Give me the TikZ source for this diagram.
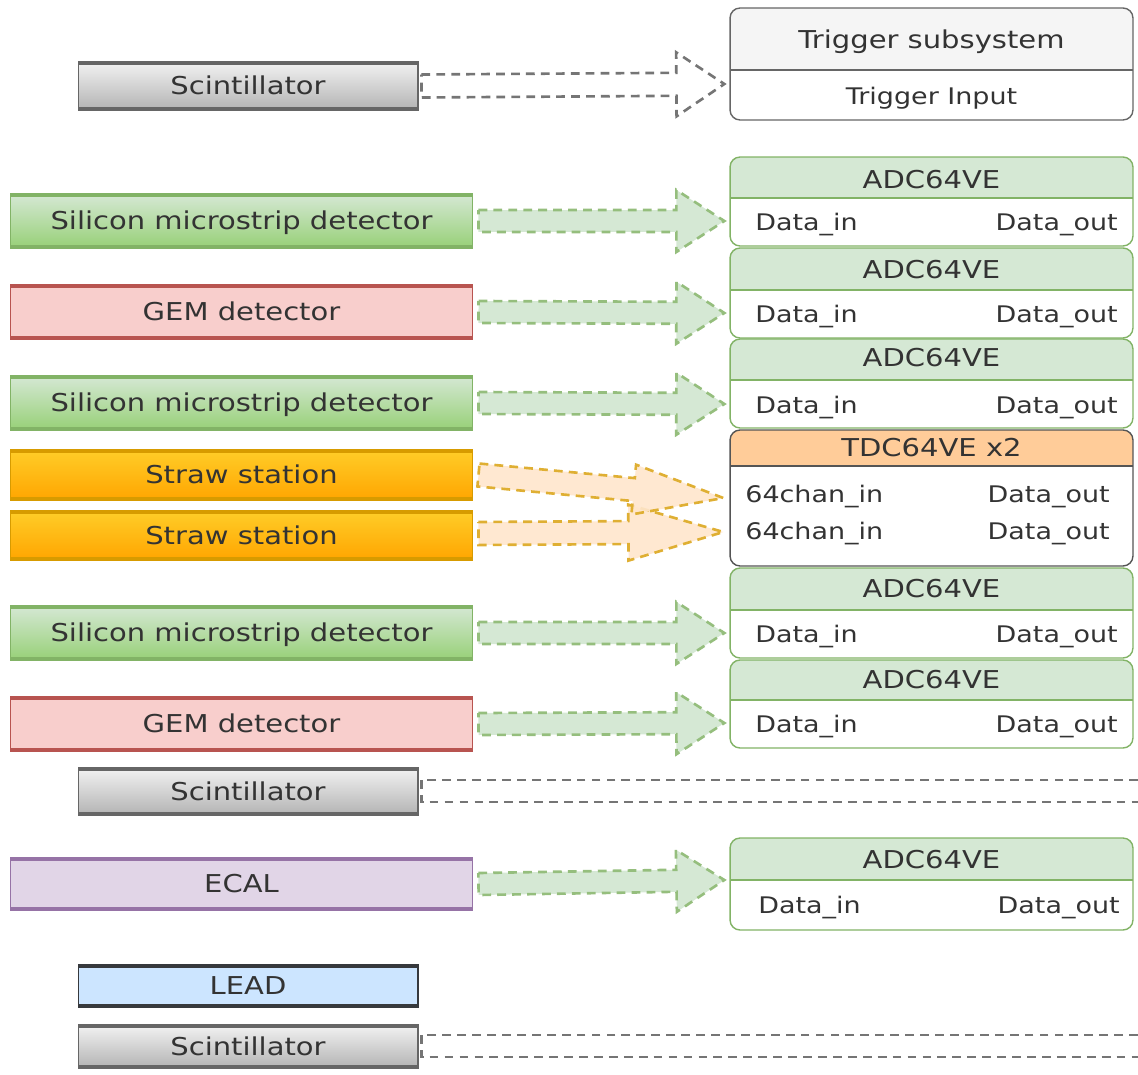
\documentclass[tikz,border=0pt]{standalone}
\usepackage{fontspec}
\setmainfont{DejaVu Sans}[FakeStretch=1.18]
\usetikzlibrary{calc}
\definecolor{txtc}{HTML}{333333}
\definecolor{gfill}{HTML}{D5E8D4}
\definecolor{gdark}{HTML}{97D077}
\definecolor{gstroke}{HTML}{82B366}
\definecolor{pfill}{HTML}{F8CECC}
\definecolor{pstroke}{HTML}{B85450}
\definecolor{otop}{HTML}{FFCD28}
\definecolor{obot}{HTML}{FFA500}
\definecolor{ostroke}{HTML}{D79B00}
\definecolor{ohead}{HTML}{FFCC99}
\definecolor{oarrow}{HTML}{FFE6CC}
\definecolor{gytop}{HTML}{F2F2F2}
\definecolor{gybot}{HTML}{B3B3B3}
\definecolor{gystroke}{HTML}{666666}
\definecolor{gyhead}{HTML}{F5F5F5}
\definecolor{vfill}{HTML}{E1D5E7}
\definecolor{vstroke}{HTML}{9673A6}
\definecolor{bfill}{HTML}{CCE5FF}
\definecolor{bstroke}{HTML}{36393D}
\definecolor{tdcstroke}{HTML}{555555}

\newcommand{\blockarr}[6]{%
  \path (#2) coordinate (as) (#3) coordinate (ae);
  \path ($(ae)!#6!(as)$) coordinate (ah);
  \draw[#1] ($(as)!#4!90:(ae)$) -- ($(ah)!#4!90:(ae)$) -- ($(ah)!#5!90:(ae)$) -- (ae)
    -- ($(ah)!#5!-90:(ae)$) -- ($(ah)!#4!-90:(ae)$) -- ($(as)!#4!-90:(ae)$) -- cycle;
}

\tikzset{
  lbl/.style={text=txtc, font=\fontsize{14}{16}\selectfont, inner sep=0pt, text height=10.2pt, text depth=0pt},
  portlbl/.style={text=txtc, font=\fontsize{13}{15}\selectfont, inner sep=0pt, text height=9.5pt, text depth=0pt},
  det/.style n args={5}{rectangle, draw=#3, line width=0.6pt, top color=#1, bottom color=#2,
    minimum width=#4, minimum height=#5, text=txtc, font=\fontsize{14}{16}\selectfont, inner sep=0pt,
    text height=10.2pt, text depth=0pt,
    path picture={\draw[#3, line width=3.5pt]
      (path picture bounding box.north west) -- (path picture bounding box.north east)
      (path picture bounding box.south west) -- (path picture bounding box.south east);}},
  unitbox/.style n args={4}{draw=#1, fill=white, rounded corners=0.2cm, line width=0.8pt,
    minimum width=8.06cm, minimum height=#4, inner sep=0pt,
    path picture={\fill[#2, sharp corners] (path picture bounding box.north west) rectangle
      ([yshift=-#3]path picture bounding box.north east);
      \draw[#1, line width=0.8pt, sharp corners] ([yshift=-#3]path picture bounding box.north west) --
      ([yshift=-#3]path picture bounding box.north east);}},
  garr/.style={draw=gstroke!85!white, fill=gfill, line width=1.5pt, dash pattern=on 5pt off 3.5pt, line join=miter},
  oarr/.style={draw=ostroke!80!white, fill=oarrow, fill opacity=0.9, draw opacity=1, line width=1.5pt, dash pattern=on 5pt off 3.5pt, line join=miter},
  gyarr/.style={draw=gystroke!90!white, fill=white, line width=1.5pt, dash pattern=on 5pt off 3.5pt, line join=miter},
  gyline/.style={draw=gystroke!90!white, line width=1.5pt, dash pattern=on 5pt off 3.5pt},
}

\begin{document}
\begin{tikzpicture}[x=0.02cm, y=-0.02cm]
\useasboundingbox (0,0) rectangle (1138,1074);

% ---------- detectors ----------
\node[det={gytop}{gybot}{gystroke}{6.8cm}{0.96cm}] (scint1) at (248,86) {Scintillator};
\node[det={gfill}{gdark}{gstroke}{9.26cm}{1.08cm}] (sil1) at (241.5,221) {Silicon microstrip detector};
\node[det={pfill}{pfill}{pstroke}{9.26cm}{1.08cm}] (gem1) at (241.5,312) {GEM detector};
\node[det={gfill}{gdark}{gstroke}{9.26cm}{1.08cm}] (sil2) at (241.5,403) {Silicon microstrip detector};
\node[det={otop}{obot}{ostroke}{9.26cm}{1.0cm}] (straw1) at (241.5,475) {Straw station};
\node[det={otop}{obot}{ostroke}{9.26cm}{0.98cm}] (straw2) at (241.5,535.5) {Straw station};
\node[det={gfill}{gdark}{gstroke}{9.26cm}{1.08cm}] (sil3) at (241.5,633) {Silicon microstrip detector};
\node[det={pfill}{pfill}{pstroke}{9.26cm}{1.08cm}] (gem2) at (241.5,724) {GEM detector};
\node[det={gytop}{gybot}{gystroke}{6.8cm}{0.94cm}] (scint2) at (248,791.5) {Scintillator};
\node[det={vfill}{vfill}{vstroke}{9.26cm}{1.04cm}] (ecal) at (241.5,884) {ECAL};
\node[det={bfill}{bfill}{bstroke}{6.8cm}{0.84cm}] (lead) at (248,986) {LEAD};
\node[det={gytop}{gybot}{gystroke}{6.8cm}{0.86cm}] (scint3) at (248,1046.5) {Scintillator};

% ---------- readout units ----------
\node[unitbox={gystroke}{gyhead}{1.24cm}{2.24cm}] (trig) at (931.5,64) {};
\node[lbl] (trigT) at (931.5,40) {Trigger subsystem};
\node[portlbl] (trigin) at (931.5,96) {Trigger Input};

\node[unitbox={gstroke}{gfill}{0.82cm}{1.78cm}] (adc1) at (931.5,201.5) {};
\node[lbl] (adc1T) at (931.5,180) {ADC64VE};
\node[portlbl, anchor=west] (adc1in) at (755,222) {Data\_in};
\node[portlbl, anchor=east] (adc1out) at (1118,222) {Data\_out};

\node[unitbox={gstroke}{gfill}{0.84cm}{1.8cm}] (adc2) at (931.5,293) {};
\node[lbl] (adc2T) at (931.5,270) {ADC64VE};
\node[portlbl, anchor=west] (adc2in) at (755,314) {Data\_in};
\node[portlbl, anchor=east] (adc2out) at (1118,314) {Data\_out};

\node[unitbox={gstroke}{gfill}{0.82cm}{1.78cm}] (adc3) at (931.5,383.5) {};
\node[lbl] (adc3T) at (931.5,358) {ADC64VE};
\node[portlbl, anchor=west] (adc3in) at (755,405) {Data\_in};
\node[portlbl, anchor=east] (adc3out) at (1118,405) {Data\_out};

\node[unitbox={tdcstroke}{ohead}{0.72cm}{2.72cm}] (tdc) at (931.5,498) {};
\node[lbl] (tdcT) at (931.5,448) {TDC64VE x2};
\node[portlbl, anchor=west] (tdcin1) at (745,494) {64chan\_in};
\node[portlbl, anchor=east] (tdcout1) at (1110,494) {Data\_out};
\node[portlbl, anchor=west] (tdcin2) at (745,531) {64chan\_in};
\node[portlbl, anchor=east] (tdcout2) at (1110,531) {Data\_out};

\node[unitbox={gstroke}{gfill}{0.84cm}{1.8cm}] (adc4) at (931.5,613) {};
\node[lbl] (adc4T) at (931.5,589) {ADC64VE};
\node[portlbl, anchor=west] (adc4in) at (755,634) {Data\_in};
\node[portlbl, anchor=east] (adc4out) at (1118,634) {Data\_out};

\node[unitbox={gstroke}{gfill}{0.8cm}{1.76cm}] (adc5) at (931.5,704) {};
\node[lbl] (adc5T) at (931.5,680) {ADC64VE};
\node[portlbl, anchor=west] (adc5in) at (755,724) {Data\_in};
\node[portlbl, anchor=east] (adc5out) at (1118,724) {Data\_out};

\node[unitbox={gstroke}{gfill}{0.84cm}{1.84cm}] (adc6) at (931.5,884) {};
\node[lbl] (adc6T) at (931.5,860) {ADC64VE};
\node[portlbl, anchor=west] (adc6in) at (758,905) {Data\_in};
\node[portlbl, anchor=east] (adc6out) at (1120,905) {Data\_out};

% ---------- connectors ----------
\coordinate (s0) at ($(scint1.east)+(3,0)$);
\coordinate (t0) at ($(trig.west)+(-5,20)$);
\blockarr{gyarr}{s0}{t0}{0.23cm}{0.64cm}{0.96cm}

\coordinate (s1) at ($(sil1.east)+(5,0)$);
\coordinate (t1) at ($(adc1.west |- adc1in)+(-5,-1)$);
\blockarr{garr}{s1}{t1}{0.22cm}{0.62cm}{0.96cm}

\coordinate (s2) at ($(gem1.east)+(5,0)$);
\coordinate (t2) at ($(adc2.west |- adc2in)+(-5,-1)$);
\blockarr{garr}{s2}{t2}{0.22cm}{0.62cm}{0.96cm}

\coordinate (s3) at ($(sil2.east)+(5,0)$);
\coordinate (t3) at ($(adc3.west |- adc3in)+(-5,-1)$);
\blockarr{garr}{s3}{t3}{0.22cm}{0.62cm}{0.96cm}

\coordinate (s5) at ($(straw2.east)+(5,-2)$);
\coordinate (t5) at ($(tdc.west |- tdcin2)+(-6,1)$);
\blockarr{oarr}{s5}{t5}{0.23cm}{0.56cm}{1.9cm}

\coordinate (s4) at ($(straw1.east)+(5,0)$);
\coordinate (t4) at ($(tdc.west |- tdcin1)+(-6,4)$);
\blockarr{oarr}{s4}{t4}{0.23cm}{0.5cm}{1.8cm}

\coordinate (s6) at ($(sil3.east)+(5,0)$);
\coordinate (t6) at ($(adc4.west |- adc4in)+(-5,-1)$);
\blockarr{garr}{s6}{t6}{0.22cm}{0.62cm}{0.96cm}

\coordinate (s7) at ($(gem2.east)+(5,0)$);
\coordinate (t7) at ($(adc5.west |- adc5in)+(-5,-1)$);
\blockarr{garr}{s7}{t7}{0.22cm}{0.62cm}{0.96cm}

\coordinate (s9) at ($(ecal.east)+(5,0)$);
\coordinate (t9) at ($(adc6.west |- adc6T)+(-5,20)$);
\blockarr{garr}{s9}{t9}{0.22cm}{0.62cm}{0.96cm}

% open-ended scintillator signal lines
\coordinate (e8a) at (1138,780);
\coordinate (e8b) at (1138,802);
\draw[gyline] (e8a) -- ($(scint2.east |- e8a)+(3,0)$) -- ($(scint2.east |- e8b)+(3,0)$) -- (e8b);

\coordinate (e11a) at (1138,1035);
\coordinate (e11b) at (1138,1057);
\draw[gyline] (e11a) -- ($(scint3.east |- e11a)+(3,0)$) -- ($(scint3.east |- e11b)+(3,0)$) -- (e11b);
\end{tikzpicture}
\end{document}
